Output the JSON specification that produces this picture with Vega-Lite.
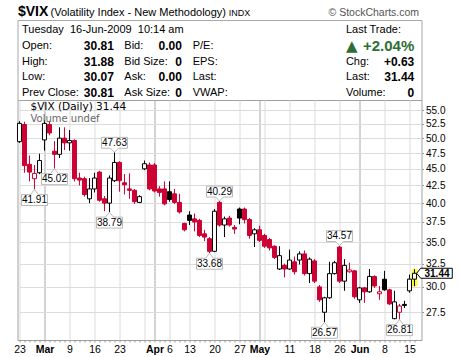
{
  "$schema": "https://vega.github.io/schema/vega-lite/v6.json",
  "background": "#ffffff",
  "padding": {"left": 12.5, "top": 4, "right": 0, "bottom": 0},
  "spacing": 0,
  "bounds": "flush",
  "config": {"view": {"stroke": null}},
  "datasets": {
    "quote": [
      {"kind": "ticker", "col": 0.1, "row": -0.889, "text": "$VIX"},
      {"kind": "name", "col": 8.25, "row": -0.889, "text": "(Volatility Index - New Methodology)"},
      {"kind": "exchange", "col": 52.8, "row": -0.889, "text": "INDX"},
      {"kind": "credit", "col": 100.4, "row": -0.889, "text": "© StockCharts.com"},
      {"kind": "label", "col": 1.125, "row": 0, "text": "Tuesday\u00a0 16-Jun-2009\u00a0 10:14 am"},
      {"kind": "label", "col": 82.1, "row": 0, "text": "Last Trade:"},
      {"kind": "label", "col": 1.125, "row": 1, "text": "Open:"},
      {"kind": "value", "col": 24.1, "row": 1, "text": "30.81"},
      {"kind": "label", "col": 26.7, "row": 1, "text": "Bid:"},
      {"kind": "value", "col": 41.1, "row": 1, "text": "0.00"},
      {"kind": "label", "col": 43.8, "row": 1, "text": "P/E:"},
      {"kind": "arrow", "col": 82.1, "row": 1, "text": "▲"},
      {"kind": "change", "col": 99.2, "row": 1, "text": "+2.04%"},
      {"kind": "label", "col": 1.125, "row": 2, "text": "High:"},
      {"kind": "value", "col": 24.1, "row": 2, "text": "31.88"},
      {"kind": "label", "col": 26.7, "row": 2, "text": "Bid Size:"},
      {"kind": "value", "col": 41.1, "row": 2, "text": "0"},
      {"kind": "label", "col": 43.8, "row": 2, "text": "EPS:"},
      {"kind": "label", "col": 82.1, "row": 2, "text": "Chg:"},
      {"kind": "value", "col": 99.2, "row": 2, "text": "+0.63"},
      {"kind": "label", "col": 1.125, "row": 3, "text": "Low:"},
      {"kind": "value", "col": 24.1, "row": 3, "text": "30.07"},
      {"kind": "label", "col": 26.7, "row": 3, "text": "Ask:"},
      {"kind": "value", "col": 41.1, "row": 3, "text": "0.00"},
      {"kind": "label", "col": 43.8, "row": 3, "text": "Last:"},
      {"kind": "label", "col": 82.1, "row": 3, "text": "Last:"},
      {"kind": "value", "col": 99.2, "row": 3, "text": "31.44"},
      {"kind": "label", "col": 1.125, "row": 4, "text": "Prev Close:"},
      {"kind": "value", "col": 24.1, "row": 4, "text": "30.81"},
      {"kind": "label", "col": 26.7, "row": 4, "text": "Ask Size:"},
      {"kind": "value", "col": 41.1, "row": 4, "text": "0"},
      {"kind": "label", "col": 43.8, "row": 4, "text": "VWAP:"},
      {"kind": "label", "col": 82.1, "row": 4, "text": "Volume:"},
      {"kind": "value", "col": 99.2, "row": 4, "text": "0"}
    ],
    "candles": [
      {"date": "2009-02-23", "open": 49.4, "high": 53.0, "low": 49.2, "close": 52.6},
      {"date": "2009-02-24", "open": 52.4, "high": 52.9, "low": 44.4, "close": 45.5},
      {"date": "2009-02-25", "open": 45.7, "high": 47.1, "low": 43.1, "close": 44.5},
      {"date": "2009-02-26", "open": 43.5, "high": 45.6, "low": 41.91, "close": 44.3},
      {"date": "2009-02-27", "open": 44.4, "high": 47.4, "low": 44.2, "close": 46.3},
      {"date": "2009-03-02", "open": 49.7, "high": 53.2, "low": 47.9, "close": 52.6},
      {"date": "2009-03-03", "open": 52.4, "high": 53.0, "low": 50.5, "close": 50.9},
      {"date": "2009-03-04", "open": 47.8, "high": 49.5, "low": 45.02, "close": 47.3},
      {"date": "2009-03-05", "open": 47.3, "high": 51.9, "low": 46.7, "close": 50.0},
      {"date": "2009-03-06", "open": 50.0, "high": 51.9, "low": 48.0, "close": 49.2},
      {"date": "2009-03-09", "open": 49.2, "high": 51.4, "low": 47.9, "close": 49.6},
      {"date": "2009-03-10", "open": 49.6, "high": 49.8, "low": 43.1, "close": 43.5},
      {"date": "2009-03-11", "open": 43.6, "high": 44.4, "low": 42.5, "close": 43.3},
      {"date": "2009-03-12", "open": 43.5, "high": 43.8, "low": 40.9, "close": 41.2},
      {"date": "2009-03-13", "open": 40.6, "high": 43.6, "low": 40.0, "close": 42.0},
      {"date": "2009-03-16", "open": 42.0, "high": 44.4, "low": 41.5, "close": 43.6},
      {"date": "2009-03-17", "open": 44.5, "high": 44.7, "low": 40.2, "close": 40.4},
      {"date": "2009-03-18", "open": 40.6, "high": 41.0, "low": 38.9, "close": 40.0},
      {"date": "2009-03-19", "open": 40.0, "high": 44.0, "low": 38.79, "close": 43.6},
      {"date": "2009-03-20", "open": 43.2, "high": 47.63, "low": 43.0, "close": 46.0},
      {"date": "2009-03-23", "open": 46.0, "high": 46.2, "low": 41.6, "close": 43.2},
      {"date": "2009-03-24", "open": 42.9, "high": 44.2, "low": 41.2, "close": 42.6},
      {"date": "2009-03-25", "open": 42.0, "high": 44.3, "low": 40.6, "close": 41.8},
      {"date": "2009-03-26", "open": 41.8, "high": 42.0, "low": 39.9, "close": 40.2},
      {"date": "2009-03-27", "open": 40.1, "high": 41.1, "low": 40.0, "close": 40.9},
      {"date": "2009-03-30", "open": 45.0, "high": 46.3, "low": 44.8, "close": 45.8},
      {"date": "2009-03-31", "open": 45.6, "high": 46.0, "low": 41.8, "close": 42.0},
      {"date": "2009-04-01", "open": 45.6, "high": 45.9, "low": 41.5, "close": 41.7},
      {"date": "2009-04-02", "open": 42.0, "high": 42.4, "low": 40.9, "close": 41.5},
      {"date": "2009-04-03", "open": 42.0, "high": 43.1, "low": 39.7, "close": 39.9},
      {"date": "2009-04-06", "open": 41.6, "high": 43.1, "low": 40.2, "close": 40.5},
      {"date": "2009-04-07", "open": 41.3, "high": 42.0, "low": 39.9, "close": 40.1},
      {"date": "2009-04-08", "open": 40.1, "high": 41.3, "low": 38.6, "close": 38.8},
      {"date": "2009-04-09", "open": 37.3, "high": 37.4, "low": 36.3, "close": 36.5},
      {"date": "2009-04-13", "open": 38.4, "high": 38.9, "low": 37.1, "close": 37.7},
      {"date": "2009-04-14", "open": 37.9, "high": 38.6, "low": 36.3, "close": 37.5},
      {"date": "2009-04-15", "open": 37.7, "high": 37.9, "low": 35.6, "close": 35.8},
      {"date": "2009-04-16", "open": 36.0, "high": 36.5, "low": 35.1, "close": 35.6},
      {"date": "2009-04-17", "open": 35.4, "high": 35.6, "low": 33.68, "close": 33.9},
      {"date": "2009-04-20", "open": 33.9, "high": 39.2, "low": 33.8, "close": 38.9},
      {"date": "2009-04-21", "open": 40.1, "high": 40.29, "low": 36.9, "close": 37.1},
      {"date": "2009-04-22", "open": 37.1, "high": 38.2, "low": 35.6, "close": 37.9},
      {"date": "2009-04-23", "open": 38.0, "high": 38.3, "low": 36.9, "close": 37.1},
      {"date": "2009-04-24", "open": 36.8, "high": 37.1, "low": 36.0, "close": 36.6},
      {"date": "2009-04-27", "open": 39.2, "high": 39.4, "low": 37.2, "close": 38.0},
      {"date": "2009-04-28", "open": 39.2, "high": 39.4, "low": 37.3, "close": 37.8},
      {"date": "2009-04-29", "open": 37.8, "high": 38.0, "low": 35.4, "close": 35.8},
      {"date": "2009-04-30", "open": 36.0, "high": 36.7, "low": 34.4, "close": 36.5},
      {"date": "2009-05-01", "open": 36.5, "high": 37.0, "low": 35.0, "close": 35.2},
      {"date": "2009-05-04", "open": 35.8, "high": 36.0, "low": 34.3, "close": 34.5},
      {"date": "2009-05-05", "open": 35.3, "high": 35.5, "low": 34.0, "close": 34.3},
      {"date": "2009-05-06", "open": 34.5, "high": 34.6, "low": 33.0, "close": 33.2},
      {"date": "2009-05-07", "open": 31.9, "high": 34.5, "low": 31.8, "close": 33.4},
      {"date": "2009-05-08", "open": 32.3, "high": 32.5, "low": 31.0, "close": 31.9},
      {"date": "2009-05-11", "open": 31.9, "high": 34.1, "low": 31.8, "close": 32.9},
      {"date": "2009-05-12", "open": 32.7, "high": 33.3, "low": 31.3, "close": 31.6},
      {"date": "2009-05-13", "open": 32.9, "high": 33.9, "low": 32.4, "close": 33.6},
      {"date": "2009-05-14", "open": 33.6, "high": 34.0, "low": 31.2, "close": 31.4},
      {"date": "2009-05-15", "open": 31.4, "high": 33.2, "low": 30.4, "close": 33.0},
      {"date": "2009-05-18", "open": 32.8, "high": 33.0, "low": 30.4, "close": 30.6},
      {"date": "2009-05-19", "open": 30.0, "high": 30.2, "low": 28.5, "close": 28.7},
      {"date": "2009-05-20", "open": 27.5, "high": 29.0, "low": 26.57, "close": 28.9},
      {"date": "2009-05-21", "open": 28.9, "high": 32.7, "low": 28.8, "close": 31.4},
      {"date": "2009-05-22", "open": 31.4, "high": 32.8, "low": 31.3, "close": 32.6},
      {"date": "2009-05-26", "open": 34.4, "high": 34.57, "low": 30.4, "close": 30.6},
      {"date": "2009-05-27", "open": 30.6, "high": 33.0, "low": 29.6, "close": 32.3},
      {"date": "2009-05-28", "open": 31.6, "high": 32.6, "low": 31.5, "close": 31.8},
      {"date": "2009-05-29", "open": 31.7, "high": 31.8, "low": 28.8, "close": 29.0},
      {"date": "2009-06-01", "open": 28.7, "high": 30.0, "low": 28.4, "close": 29.9},
      {"date": "2009-06-02", "open": 29.9, "high": 30.0, "low": 28.4, "close": 29.5},
      {"date": "2009-06-03", "open": 29.5, "high": 31.9, "low": 29.4, "close": 31.1},
      {"date": "2009-06-04", "open": 31.1, "high": 31.2, "low": 29.9, "close": 30.1},
      {"date": "2009-06-05", "open": 29.3, "high": 30.1, "low": 28.7, "close": 29.5},
      {"date": "2009-06-08", "open": 30.8, "high": 31.7, "low": 29.6, "close": 29.7},
      {"date": "2009-06-09", "open": 29.7, "high": 29.8, "low": 28.2, "close": 28.3},
      {"date": "2009-06-10", "open": 26.9, "high": 29.6, "low": 26.85, "close": 28.5},
      {"date": "2009-06-11", "open": 27.5, "high": 28.3, "low": 26.81, "close": 28.1},
      {"date": "2009-06-12", "open": 28.25, "high": 28.6, "low": 27.9, "close": 28.15},
      {"date": "2009-06-15", "open": 29.6, "high": 31.3, "low": 29.4, "close": 30.81},
      {"date": "2009-06-16", "open": 30.81, "high": 31.88, "low": 30.07, "close": 31.44}
    ],
    "extremes": [
      {"date": "2009-02-26", "value": 41.91, "side": "low"},
      {"date": "2009-03-04", "value": 45.02, "side": "low"},
      {"date": "2009-03-19", "value": 38.79, "side": "low"},
      {"date": "2009-03-20", "value": 47.63, "side": "high"},
      {"date": "2009-04-17", "value": 33.68, "side": "low"},
      {"date": "2009-04-21", "value": 40.29, "side": "high"},
      {"date": "2009-05-20", "value": 26.57, "side": "low"},
      {"date": "2009-05-26", "value": 34.57, "side": "high"},
      {"date": "2009-06-11", "value": 26.81, "side": "low"}
    ]
  },
  "vconcat": [
    {
      "width": 404,
      "height": 80,
      "view": {"stroke": "#a8a8a8", "strokeWidth": 1},
      "data": {"name": "quote"},
      "encoding": {
        "x": {"field": "col", "type": "quantitative", "scale": {"domain": [0, 101], "nice": false, "zero": false}, "axis": null},
        "y": {"field": "row", "type": "quantitative", "scale": {"domain": [-0.635, 4.444], "nice": false, "zero": false, "reverse": true}, "axis": null},
        "text": {"field": "text", "type": "nominal"}
      },
      "layer": [
        {"transform": [{"filter": "datum.kind == 'ticker'"}], "mark": {"type": "text", "align": "left", "baseline": "alphabetic", "font": "Liberation Sans", "fontSize": 14, "fontWeight": "bold", "color": "#000"}},
        {"transform": [{"filter": "datum.kind == 'name'"}], "mark": {"type": "text", "align": "left", "baseline": "alphabetic", "font": "Liberation Sans", "fontSize": 11, "color": "#000"}},
        {"transform": [{"filter": "datum.kind == 'exchange'"}], "mark": {"type": "text", "align": "left", "baseline": "alphabetic", "font": "Liberation Sans", "fontSize": 9, "color": "#000"}},
        {"transform": [{"filter": "datum.kind == 'credit'"}], "mark": {"type": "text", "align": "right", "baseline": "alphabetic", "font": "Liberation Sans", "fontSize": 10.5, "color": "#555"}},
        {"transform": [{"filter": "datum.kind == 'label'"}], "mark": {"type": "text", "align": "left", "baseline": "middle", "font": "Liberation Sans", "fontSize": 11, "color": "#000"}},
        {"transform": [{"filter": "datum.kind == 'value'"}], "mark": {"type": "text", "align": "right", "baseline": "middle", "font": "Liberation Sans", "fontSize": 12, "fontWeight": "bold", "color": "#000"}},
        {"transform": [{"filter": "datum.kind == 'arrow'"}], "mark": {"type": "text", "align": "left", "baseline": "middle", "font": "DejaVu Sans", "fontSize": 15, "color": "#2f6e33"}},
        {"transform": [{"filter": "datum.kind == 'change'"}], "mark": {"type": "text", "align": "right", "baseline": "middle", "font": "Liberation Sans", "fontSize": 15, "fontWeight": "bold", "color": "#2f6e33"}}
      ]
    },
    {
      "width": 404,
      "height": 240,
      "view": {"stroke": "#a0a0a0", "strokeWidth": 1},
      "title": {
        "text": "$VIX (Daily) 31.44",
        "subtitle": "Volume undef",
        "anchor": "start",
        "frame": "group",
        "offset": -24,
        "dx": 13,
        "font": "DejaVu Sans",
        "fontSize": 10.5,
        "fontWeight": "normal",
        "color": "#000",
        "subtitleFont": "DejaVu Sans",
        "subtitleFontSize": 10,
        "subtitleColor": "#666",
        "subtitlePadding": 2
      },
      "encoding": {
        "x": {
          "field": "date",
          "type": "ordinal",
          "title": null,
          "scale": {"type": "point", "padding": 0.9, "align": 0.22},
          "axis": {
            "labelExpr": "{'2009-02-23':'23','2009-03-02':'Mar','2009-03-09':'9','2009-03-16':'16','2009-03-23':'23','2009-04-01':'Apr','2009-04-06':'6','2009-04-13':'13','2009-04-20':'20','2009-04-27':'27','2009-05-01':'May','2009-05-11':'11','2009-05-18':'18','2009-05-26':'26','2009-06-01':'Jun','2009-06-08':'8','2009-06-15':'15'}[datum.value] || ''",
            "labelOverlap": false,
            "labelAngle": 0,
            "labelFont": "Liberation Sans",
            "labelFontSize": 10.5,
            "labelColor": "#000",
            "labelPadding": 2,
            "labelFontWeight": {"condition": {"test": "indexof(['2009-03-02','2009-04-01','2009-05-01','2009-06-01'], datum.value) >= 0", "value": "bold"}, "value": "normal"},
            "grid": true,
            "gridColor": {"condition": {"test": "indexof(['2009-03-02','2009-04-01','2009-05-01','2009-06-01'], datum.value) >= 0", "value": "#a8a8a8"}, "value": "#dcdcdc"},
            "gridOpacity": {"condition": {"test": "indexof(['2009-02-23','2009-03-02','2009-03-09','2009-03-16','2009-03-23','2009-03-30','2009-04-01','2009-04-06','2009-04-13','2009-04-20','2009-04-27','2009-05-01','2009-05-04','2009-05-11','2009-05-18','2009-05-26','2009-06-01','2009-06-08','2009-06-15'], datum.value) >= 0", "value": 1}, "value": 0},
            "tickSize": 2,
            "tickColor": "#999",
            "domainColor": "#999",
            "domainDash": [1, 1]
          }
        }
      },
      "layer": [
        {
          "data": {"name": "candles"},
          "transform": [{"window": [{"op": "lag", "field": "close", "as": "prev"}], "sort": [{"field": "date", "order": "ascending"}]}],
          "layer": [
            {
              "transform": [{"filter": "datum.date == '2009-06-16'"}],
              "mark": {"type": "bar", "width": 6, "color": "#ffff33"},
              "encoding": {
                "y": {"field": "high", "type": "quantitative", "title": null,
                  "scale": {"type": "log", "domain": [25, 57], "nice": false},
                  "axis": {"orient": "right", "values": [27.5, 30, 32.5, 35, 37.5, 40, 42.5, 45, 47.5, 50, 52.5, 55], "format": ".1f", "labelFont": "Liberation Sans", "labelFontSize": 10, "labelColor": "#000", "labelPadding": 2, "tickSize": 2, "tickColor": "#999", "domain": false, "grid": true, "gridColor": "#dcdcdc"}},
                "y2": {"field": "low"}
              }
            },
            {
              "mark": {"type": "rule", "strokeWidth": 1},
              "encoding": {
                "y": {"field": "low", "type": "quantitative", "title": null},
                "y2": {"field": "high"},
                "color": {"condition": {"test": "datum.prev != null && datum.close < datum.prev", "value": "#cc0033"}, "value": "#000000"}
              }
            },
            {
              "mark": {"type": "bar", "width": 4, "strokeWidth": 1},
              "encoding": {
                "y": {"field": "open", "type": "quantitative", "title": null},
                "y2": {"field": "close"},
                "stroke": {"condition": {"test": "datum.prev != null && datum.close < datum.prev", "value": "#cc0033"}, "value": "#000000"},
                "fill": {"condition": [
                  {"test": "datum.close < datum.open && datum.prev != null && datum.close < datum.prev", "value": "#cc0033"},
                  {"test": "datum.close < datum.open", "value": "#000000"}
                ], "value": "#ffffff"}
              }
            },
            {
              "transform": [{"filter": "datum.date == '2009-06-16'"}],
              "mark": {"type": "point", "shape": "M0.22,0L0.62,-0.5H3.78V0.5H0.62Z", "size": 400, "filled": true, "fill": "#ffffff", "stroke": "#000000", "strokeWidth": 1, "opacity": 1},
              "encoding": {"y": {"field": "close", "type": "quantitative", "title": null}}
            },
            {
              "transform": [{"filter": "datum.date == '2009-06-16'"}],
              "mark": {"type": "text", "align": "left", "baseline": "middle", "dx": 10, "dy": 1, "font": "Liberation Sans", "fontSize": 10, "fontWeight": "bold", "color": "#000"},
              "encoding": {"y": {"field": "close", "type": "quantitative", "title": null}, "text": {"field": "close", "type": "quantitative", "format": ".2f"}}
            }
          ]
        },
        {
          "data": {"name": "extremes"},
          "layer": [
            {
              "transform": [{"filter": "datum.side == 'high'"}],
              "mark": {"type": "point", "shape": "M0,0L0.3,-0.31H1V-1.15H-1V-0.31H-0.3Z", "size": 676, "filled": true, "fill": "#ffffff", "stroke": "#b8b8b8", "strokeWidth": 1, "opacity": 1},
              "encoding": {"y": {"field": "value", "type": "quantitative", "title": null}}
            },
            {
              "transform": [{"filter": "datum.side == 'low'"}],
              "mark": {"type": "point", "shape": "M0,0L0.3,0.385H1V1.23H-1V0.385H-0.3Z", "size": 676, "filled": true, "fill": "#ffffff", "stroke": "#b8b8b8", "strokeWidth": 1, "opacity": 1},
              "encoding": {"y": {"field": "value", "type": "quantitative", "title": null}}
            },
            {
              "transform": [{"filter": "datum.side == 'high'"}],
              "mark": {"type": "text", "baseline": "middle", "dy": -9.5, "font": "Liberation Sans", "fontSize": 10, "color": "#000"},
              "encoding": {"y": {"field": "value", "type": "quantitative", "title": null}, "text": {"field": "value", "type": "quantitative", "format": ".2f"}}
            },
            {
              "transform": [{"filter": "datum.side == 'low'"}],
              "mark": {"type": "text", "baseline": "middle", "dy": 10.5, "font": "Liberation Sans", "fontSize": 10, "color": "#000"},
              "encoding": {"y": {"field": "value", "type": "quantitative", "title": null}, "text": {"field": "value", "type": "quantitative", "format": ".2f"}}
            }
          ]
        }
      ]
    }
  ]
}
